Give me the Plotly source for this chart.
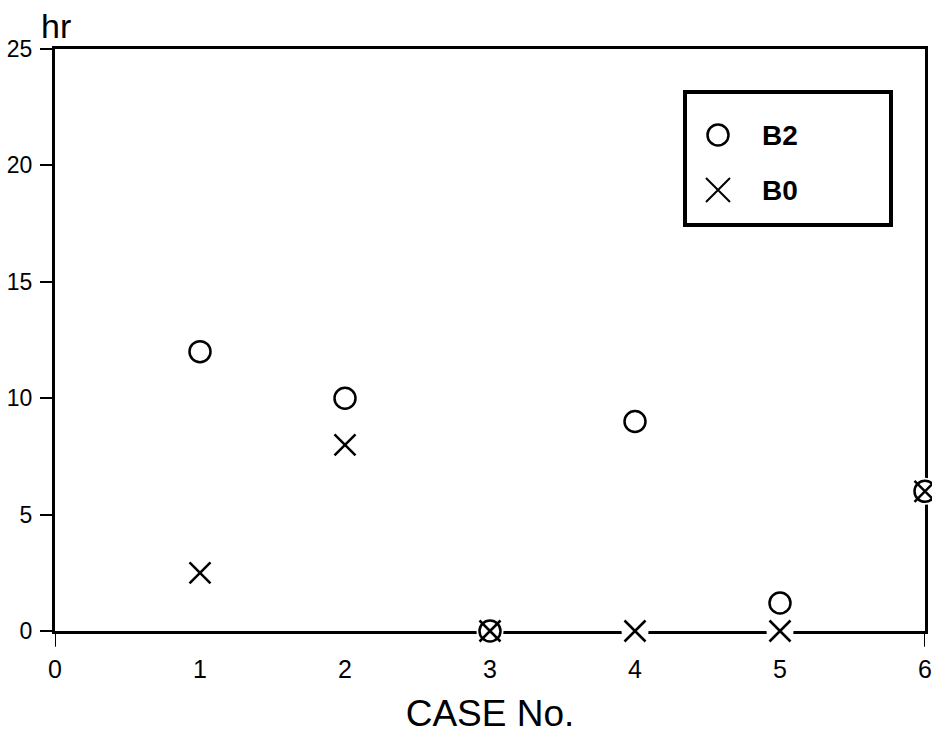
import plotly.graph_objects as go

cases = [1, 2, 3, 4, 5, 6]
b2_hours = [12, 10, 0, 9, 1.2, 6]
b0_hours = [2.5, 8, 0, 0, 0, 6]
x_ticks = [0, 1, 2, 3, 4, 5, 6]
y_ticks = [0, 5, 10, 15, 20, 25]
series_names = ["B2", "B0"]

FONT = "Liberation Sans"

W, H = 932, 736
PX0, PX1, PY0, PY1 = 55, 925, 49, 631          # plot area in page pixels
PW, PH = PX1 - PX0, PY1 - PY0


def fx(px):
    return (px - PX0) / PW


def fy(py):
    return (PY1 - py) / PH


LEG_X0, LEG_X1 = fx(685), fx(891)
LEG_Y1, LEG_Y0 = fy(92), fy(225)
SYM_X = fx(718)
TXT_X = fx(760)
ROW_Y = [fy(135), fy(190)]

fig = go.Figure()

# white backing discs so markers interrupt the axis line like the original
fig.add_trace(go.Scatter(
    x=cases, y=b0_hours, mode="markers", showlegend=False, hoverinfo="skip",
    marker=dict(symbol="circle", size=27, color="white", line=dict(width=0)),
    cliponaxis=False,
))
fig.add_trace(go.Scatter(
    x=cases, y=b2_hours, mode="markers", name=series_names[0], cliponaxis=False,
    showlegend=False,
    marker=dict(symbol="circle", size=21, color="white",
                line=dict(color="black", width=2.5)),
))
fig.add_trace(go.Scatter(
    x=cases, y=b0_hours, mode="markers", name=series_names[1], cliponaxis=False,
    showlegend=False,
    marker=dict(symbol="x-thin", size=21, color="black",
                line=dict(color="black", width=2.5)),
))

# legend key symbols on an overlay axis pair spanning the plot area
fig.add_trace(go.Scatter(
    x=[SYM_X], y=[ROW_Y[0]], xaxis="x2", yaxis="y2", mode="markers",
    showlegend=False, hoverinfo="skip", cliponaxis=False,
    marker=dict(symbol="circle", size=21, color="white",
                line=dict(color="black", width=2.5)),
))
fig.add_trace(go.Scatter(
    x=[SYM_X], y=[ROW_Y[1]], xaxis="x2", yaxis="y2", mode="markers",
    showlegend=False, hoverinfo="skip", cliponaxis=False,
    marker=dict(symbol="x-thin", size=24, color="black",
                line=dict(color="black", width=2)),
))

fig.update_layout(
    width=W, height=H,
    margin=dict(l=PX0, r=W - PX1, t=PY0, b=H - PY1, autoexpand=False),
    paper_bgcolor="white", plot_bgcolor="white",
    font=dict(family=FONT, size=24, color="black"),
    showlegend=False,
    xaxis=dict(
        range=[0, 6], tickvals=x_ticks, ticktext=[str(v) for v in x_ticks],
        showgrid=False, zeroline=False, showline=True, mirror=True,
        linecolor="black", linewidth=3, ticks="", layer="below traces",
        automargin=False, ticklabelstandoff=14,
        title=dict(text="CASE No.", font=dict(size=37, family=FONT), standoff=19),
        tickfont=dict(size=25),
    ),
    yaxis=dict(
        range=[0, 25], tickvals=y_ticks, ticktext=[str(v) for v in y_ticks],
        showgrid=False, zeroline=False, showline=True, mirror=True,
        linecolor="black", linewidth=3, ticks="outside", ticklen=12,
        tickwidth=1.5, tickcolor="black", layer="below traces",
        automargin=False, ticklabelstandoff=3,
        tickfont=dict(size=23),
    ),
    xaxis2=dict(overlaying="x", range=[0, 1], visible=False),
    yaxis2=dict(overlaying="y", range=[0, 1], visible=False),
    annotations=[
        dict(text="hr", xref="paper", yref="paper", x=fx(39), y=1,
             xanchor="left", yanchor="bottom", showarrow=False,
             font=dict(size=34, family=FONT), yshift=2),
        dict(text="<b>%s</b>" % series_names[0], xref="paper", yref="paper",
             x=TXT_X, y=ROW_Y[0], xanchor="left", yanchor="middle",
             showarrow=False, font=dict(size=28, family=FONT)),
        dict(text="<b>%s</b>" % series_names[1], xref="paper", yref="paper",
             x=TXT_X, y=ROW_Y[1], xanchor="left", yanchor="middle",
             showarrow=False, font=dict(size=28, family=FONT)),
    ],
    shapes=[
        dict(type="rect", xref="paper", yref="paper", x0=LEG_X0, x1=LEG_X1,
             y0=LEG_Y0, y1=LEG_Y1, line=dict(color="black", width=4),
             fillcolor="white", layer="below"),
        dict(type="line", xref="x", yref="paper", x0=0, x1=0, y0=0, y1=-0.027,
             line=dict(color="black", width=2)),
        dict(type="line", xref="x", yref="paper", x0=6, x1=6, y0=0, y1=-0.027,
             line=dict(color="black", width=2)),
    ],
)

# remove the default 8px page margin so the figure sits at the window origin
fig.write_html("out.html",
               config={"displayModeBar": False},
               post_script="document.body.style.margin='0';"
                           "document.body.style.overflow='hidden';")
